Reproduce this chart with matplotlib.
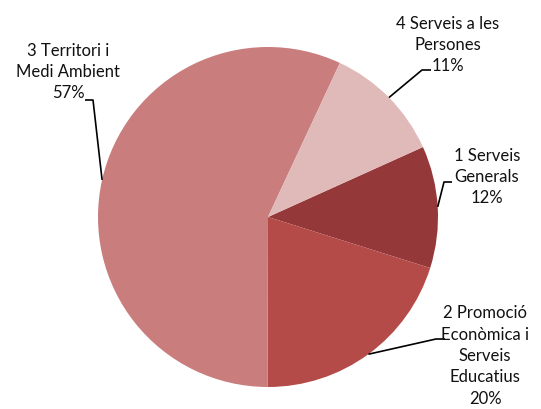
import numpy as np
import matplotlib
matplotlib.use("Agg")
import matplotlib.pyplot as plt

plt.rcParams['font.family'] = ['Lato', 'DejaVu Sans']

# data (percent of total)
labels = ["1 Serveis\nGenerals",
          "2 Promoció\nEconòmica i\nServeis\nEducatius",
          "3 Territori i\nMedi Ambient",
          "4 Serveis a les\nPersones"]
values = [11.6, 20.2, 56.9, 11.3]
colors = ["#953839", "#B44B49", "#C97D7C", "#E0B9B9"]

# layout in pixel coordinates (y measured upward)
W, H = 541, 410
cx, cy, r = 268, H - 218, 170
# text centre and leader elbow points per slice
text_pos = [(487, H - 177), (485, H - 356), (68, H - 72), (448, H - 45)]
elbow = [((452, H - 183), (444, H - 183)),
         ((445, H - 340), (436, H - 340)),
         ((85, H - 101), (93, H - 101)),
         ((431, H - 71), (422, H - 71))]

fig = plt.figure(figsize=(W / 100, H / 100), dpi=100)
ax = fig.add_axes([0, 0, 1, 1])

wedges, _ = ax.pie(values, colors=colors, startangle=24.3, counterclock=False,
                   center=(cx, cy), radius=r, frame=True,
                   wedgeprops=dict(linewidth=0))
ax.set_xlim(0, W)
ax.set_ylim(0, H)
ax.set_aspect('equal')
ax.axis('off')

total = sum(values)
for w, lab, v, tp, el in zip(wedges, labels, values, text_pos, elbow):
    ang = np.deg2rad((w.theta1 + w.theta2) / 2)
    px, py = cx + r * np.cos(ang), cy + r * np.sin(ang)
    ax.plot([el[0][0], el[1][0], px], [el[0][1], el[1][1], py],
            color='black', lw=1.2, solid_capstyle='butt')
    ax.text(tp[0], tp[1], "%s\n%d%%" % (lab, round(v / total * 100)),
            ha='center', va='center', fontsize=12, color='#111111',
            linespacing=1.42)

fig.savefig("out.png", dpi=100)
